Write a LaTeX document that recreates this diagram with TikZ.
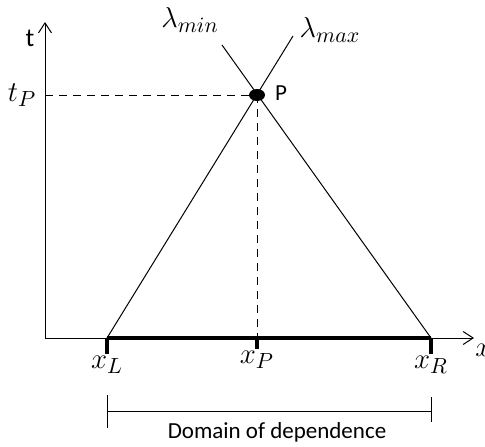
\documentclass[tikz,border=0pt]{standalone}
\usepackage{fontspec}
\setmainfont{Carlito}
\usepackage{amsmath}
\usepackage{amssymb}
\usetikzlibrary{arrows.meta}

\begin{document}
\begin{tikzpicture}[x=0.5pt,y=0.5pt,
  thinline/.style={line width=0.5pt},
  dashline/.style={line width=0.5pt,dash pattern=on 4pt off 3pt},
  ticky/.style={line width=2pt},
  axisarrow/.style={-{Straight Barb[length=5pt,width=6.5pt]}},
  mathlab/.style={font=\fontsize{15}{17}\selectfont},
  txtlab/.style={font=\fontsize{11.5}{13}\selectfont}]
\useasboundingbox (0,0) rectangle (485,446);
%\def\xl{107} \def\xr{431}
\path
(45,108) coordinate (O)
(45,424) coordinate (ttop)
(474,108) coordinate (xend)
(45,351) coordinate (tPax)
(107,108) coordinate (xL)
(257,108) coordinate (xP)
(431,108) coordinate (xR)
(107,92) coordinate (xLb)
(257,97) coordinate (xPb)
(431,92) coordinate (xRb)
(257,351) coordinate (P)
(293,410) coordinate (lmax)
(222,401) coordinate (lmin)
(107,51) coordinate (bL1) (107,18) coordinate (bL2)
(431,49) coordinate (bR1) (431,24) coordinate (bR2)
(107,35) coordinate (bL) (431,35) coordinate (bR)
(30,408) node[txtlab,font=\fontsize{13}{15}\selectfont] (t) {t}
(22,351) node[mathlab] (tP) {$t_P$}
(190,426) node[mathlab] (Lmin) {$\lambda_{min}$}
(330,416) node[mathlab] (Lmax) {$\lambda_{max}$}
(268,353) node[txtlab,anchor=west] (Plab) {P}
(475,96) node[mathlab,anchor=west,inner sep=0pt] (x) {$x$}
(xLb) node[mathlab,anchor=north,inner sep=1pt] (xLlab) {$x_L$}
(xPb) node[mathlab,anchor=north,inner sep=1pt] (xPlab) {$x_P$}
(xRb) node[mathlab,anchor=north,inner sep=1pt] (xRlab) {$x_R$}
(277,14) node[txtlab] (dom) {Domain of dependence};
% axes
\draw[thinline,axisarrow] (O) -- (ttop);
\draw[thinline,axisarrow] (O) -- (xend);
% characteristics through P
\draw[thinline] (xL) -- (lmax);
\draw[thinline] (xR) -- (lmin);
\draw[dashline] (tPax) -- (P);
\draw[dashline] (P) -- (xP);
\fill (P) ellipse (4pt and 3pt);
% domain
\draw[ticky] (xL) -- (xR);
\draw[ticky] (xL) -- (xLb);
\draw[ticky] (xP) -- (xPb);
\draw[ticky] (xR) -- (xRb);
\draw[thinline] (bL1) -- (bL2);
\draw[thinline] (bR1) -- (bR2);
\draw[thinline] (bL) -- (bR);
\end{tikzpicture}
\end{document}
